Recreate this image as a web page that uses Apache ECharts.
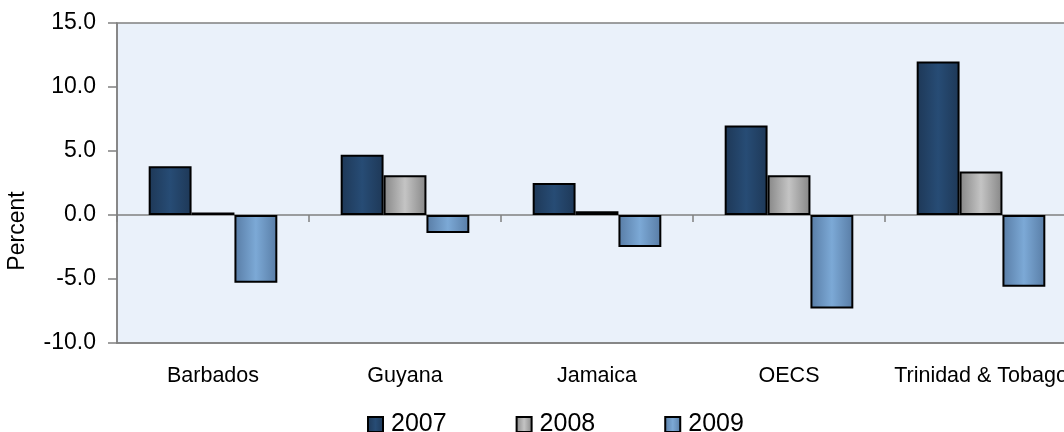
<!DOCTYPE html>
<html><head><meta charset="utf-8">
<script src="https://cdn.jsdelivr.net/npm/echarts@6/dist/echarts.min.js"></script>
<style>html,body{margin:0;padding:0;background:#fff;overflow:hidden;width:1064px;height:432px}#c{width:1077px;height:432px}</style>
</head><body><div id="c"></div>
<script>
const categories = ['Barbados', 'Guyana', 'Jamaica', 'OECS', 'Trinidad & Tobago'];
const seriesNames = ['2007', '2008', '2009'];
const v2007 = [3.8, 4.7, 2.5, 7.0, 12.0];
const v2008 = [0.2, 3.1, 0.3, 3.1, 3.4];
const v2009 = [-5.3, -1.4, -2.5, -7.3, -5.6];
const yTicks = { min: -10, max: 15, interval: 5 };

function grad(edge, mid) {
  return new echarts.graphic.LinearGradient(0, 0, 1, 0, [
    { offset: 0, color: edge }, { offset: 0.5, color: mid }, { offset: 1, color: edge }
  ]);
}
const fills = [grad('#1e3857', '#274c75'), grad('#868686', '#c4c4c4'), grad('#587ca5', '#7ca9d6')];
const values = [v2007, v2008, v2009];
const font = 'Liberation Sans, Arial, sans-serif';

const chart = echarts.init(document.getElementById('c'));
chart.setOption({
  animation: false,
  grid: { left: 117, top: 23, right: 0, bottom: 89, show: true, backgroundColor: '#eaf1fa', borderColor: '#808080', borderWidth: 1.5 },
  legend: {
    data: seriesNames, left: 367, top: 412, padding: 0, itemWidth: 15, itemHeight: 15, itemGap: 69,
    icon: 'rect', textStyle: { fontFamily: font, fontSize: 25, color: '#000', padding: [0, 0, 0, 3] },
    itemStyle: { borderColor: '#000', borderWidth: 2 }
  },
  xAxis: [
    { type: 'category', data: categories, position: 'bottom',
      axisLine: { onZero: false, lineStyle: { color: '#808080', width: 1.5 } },
      axisTick: { show: false },
      axisLabel: { fontFamily: font, fontSize: 21.5, color: '#000', margin: 22, interval: 0 } },
    { type: 'category', data: categories, position: 'bottom',
      axisLine: { onZero: true, lineStyle: { color: '#808080', width: 1.5 } },
      axisTick: { show: true, inside: false, length: 7, lineStyle: { color: '#808080', width: 1.5 } },
      axisLabel: { show: false } }
  ],
  yAxis: {
    type: 'value', min: yTicks.min, max: yTicks.max, interval: yTicks.interval,
    axisLine: { show: true, lineStyle: { color: '#808080', width: 1.5 } },
    axisTick: { show: true, length: 9, lineStyle: { color: '#808080', width: 1.5 } },
    splitLine: { show: false },
    axisLabel: { fontFamily: font, fontSize: 23, color: '#000', margin: 21, formatter: v => v.toFixed(1) }
  },
  graphic: [{ type: 'text', x: 18, y: 231, rotation: Math.PI / 2,
    style: { text: 'Percent', font: '23px ' + font, fill: '#000', textAlign: 'center', textVerticalAlign: 'middle' } }],
  series: seriesNames.map((n, i) => ({
    name: n, type: 'bar', xAxisIndex: 0, data: values[i],
    barCategoryGap: '33%', barGap: '0%',
    itemStyle: { color: fills[i], borderColor: '#000', borderWidth: 2 }
  }))
});
</script></body></html>
